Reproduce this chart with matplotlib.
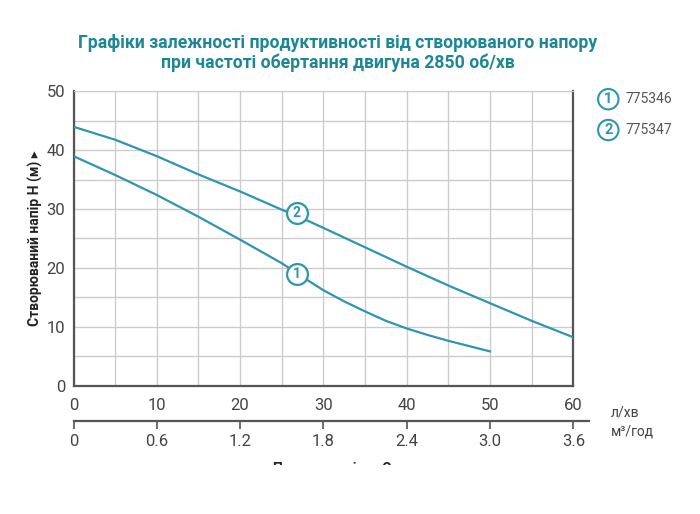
import matplotlib.pyplot as plt
from matplotlib.patches import Rectangle

# flow, l/min -> head, m
q1 = [0, 5, 10, 15, 20, 25, 28, 30, 32.5, 35, 37.5, 40, 42.5, 45, 50]
h1 = [39.0, 35.8, 32.4, 28.7, 24.8, 20.8, 18.0, 16.2, 14.3, 12.6, 11.0, 9.7, 8.6, 7.6, 5.8]
q2 = [0, 5, 10, 15, 20, 25, 28, 30, 35, 40, 45, 50, 55, 60]
h2 = [44.0, 41.8, 39.0, 35.9, 33.0, 29.9, 28.1, 26.8, 23.5, 20.2, 17.0, 14.0, 11.0, 8.2]
models = ["775346", "775347"]
label_pos = [(26.8, 18.9), (26.8, 29.4)]

teal = "#2e96b0"
title_col = "#1d8796"
txt = "#444444"
font = ["Roboto", "DejaVu Sans"]

fig = plt.figure(figsize=(7, 5.14), dpi=100)
ax = fig.add_axes([0.105, 0.250, 0.714, 0.572])

ax.plot(q1, h1, color=teal, lw=1.6, zorder=3)
ax.plot(q2, h2, color=teal, lw=1.6, zorder=3)
for i, (x, y) in enumerate(label_pos):
    ax.plot(x, y, "o", ms=15, mfc="white", mec=teal, mew=1.6, zorder=4)
    ax.text(x, y, str(i + 1), color=teal, ha="center", va="center",
            fontsize=10, fontweight="bold", family=font, zorder=5)

ax.set_xlim(0, 60)
ax.set_ylim(0, 50)
ax.set_xticks(range(0, 61, 5))
ax.set_xticklabels([str(v) if v % 10 == 0 else "" for v in range(0, 61, 5)])
ax.set_yticks(range(0, 51, 5))
ax.set_yticklabels([str(v) if v % 10 == 0 else "" for v in range(0, 51, 5)])
ax.grid(color="#cccccc", lw=1)
ax.tick_params(length=0, labelsize=12, labelcolor=txt)
ax.tick_params(axis="x", pad=9)
ax.tick_params(axis="y", pad=6)
for lab in ax.get_xticklabels() + ax.get_yticklabels():
    lab.set_family(font)
for s in ["left", "bottom", "right"]:
    ax.spines[s].set_color("#555555")
    ax.spines[s].set_linewidth(1.6)
ax.spines["top"].set_color("#cccccc")

ax.set_ylabel("Створюваний напір H (м) ▸", fontsize=10, fontweight="bold",
              color="#222222", family=font)
ax.yaxis.set_label_coords(-0.062, 0.5)

# second scale, m3/h
ax2 = fig.add_axes([0.105, 0.180, 0.737, 0.0001])
ax2.set_xlim(0, 3.6 * 516 / 500)
ax2.set_ylim(0, 1)
ax2.set_xticks([0, 0.6, 1.2, 1.8, 2.4, 3.0, 3.6])
ax2.set_xticklabels(["0", "0.6", "1.2", "1.8", "2.4", "3.0", "3.6"])
ax2.set_yticks([])
for s in ["left", "right", "top"]:
    ax2.spines[s].set_visible(False)
ax2.spines["bottom"].set_color("#555555")
ax2.spines["bottom"].set_linewidth(1.6)
ax2.tick_params(axis="x", direction="out", length=6, width=1.2, color="#555555",
                labelsize=12, labelcolor=txt, pad=3)
for lab in ax2.get_xticklabels():
    lab.set_family(font)

fig.text(0.872, 0.198, "л/хв", fontsize=10, color=txt, family=font, va="center")
fig.text(0.872, 0.161, "м³/год", fontsize=10, color=txt, family=font, va="center")

fig.text(0.482, 0.916, "Графіки залежності продуктивності від створюваного напору",
         ha="center", va="center", fontsize=12.7, fontweight="bold", color=title_col, family=font)
fig.text(0.482, 0.878, "при частоті обертання двигуна 2850 об/хв",
         ha="center", va="center", fontsize=12.7, fontweight="bold", color=title_col, family=font)

# legend
for i, m in enumerate(models):
    y = 0.807 - i * 0.06
    fig.text(0.869, y, str(i + 1), ha="center", va="center", fontsize=10.5,
             fontweight="bold", color=teal, family=font,
             bbox=dict(boxstyle="circle,pad=0.22", fc="white", ec=teal, lw=1.5))
    fig.text(0.893, y, m, ha="left", va="center", fontsize=10, color="#555555", family=font)

# partly hidden axis caption at the bottom
fig.text(0.39, 0.1005, "Продуктивність Q", ha="left", va="top", fontsize=10,
         fontweight="bold", color="#222222", family=font)
fig.patches.append(Rectangle((0, 0), 1, 0.0945, transform=fig.transFigure,
                             fc="white", ec="none", zorder=10))

fig.savefig("out.png", dpi=100)
